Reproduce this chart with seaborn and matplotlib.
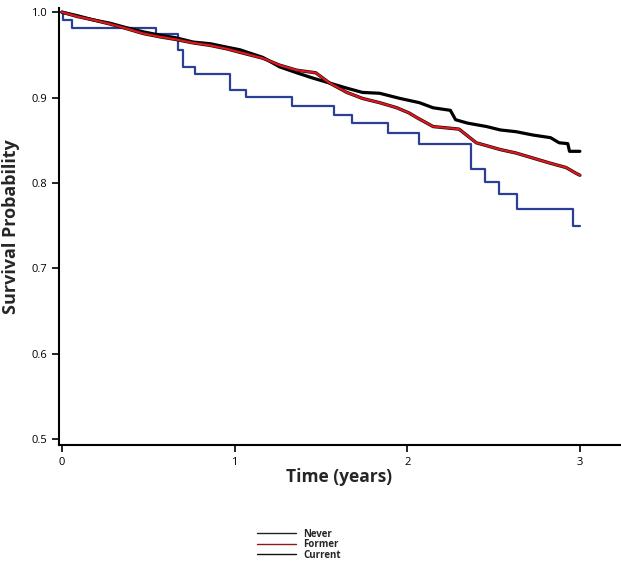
import matplotlib
matplotlib.use("Agg")
import matplotlib.pyplot as plt
import matplotlib.patheffects as pe
from matplotlib.lines import Line2D
import seaborn as sns
import pandas as pd

# Kaplan-Meier readings (time in years, survival probability)
never_t = [0, 0.087, 0.18, 0.28, 0.37, 0.47, 0.57, 0.66, 0.76, 0.86, 0.955, 1.03,
           1.164, 1.26, 1.36, 1.45, 1.55, 1.65, 1.74, 1.84, 1.957, 2.07, 2.15,
           2.25, 2.28, 2.35, 2.46, 2.54, 2.63, 2.73, 2.83, 2.88, 2.93, 2.94, 3.0]
never_s = [1.0, 0.996, 0.991, 0.987, 0.982, 0.977, 0.973, 0.970, 0.965, 0.963, 0.959, 0.956,
           0.947, 0.936, 0.929, 0.923, 0.917, 0.911, 0.906, 0.905, 0.899, 0.894, 0.888,
           0.885, 0.874, 0.870, 0.866, 0.862, 0.860, 0.856, 0.853, 0.847, 0.846, 0.837, 0.837]

former_t = [0, 0.087, 0.18, 0.28, 0.37, 0.47, 0.57, 0.66, 0.76, 0.86, 0.955, 1.03,
            1.164, 1.26, 1.36, 1.47, 1.55, 1.65, 1.74, 1.84, 1.94, 2.01, 2.06, 2.15,
            2.30, 2.40, 2.54, 2.63, 2.73, 2.83, 2.92, 2.98, 3.0]
former_s = [1.0, 0.995, 0.991, 0.986, 0.981, 0.975, 0.971, 0.968, 0.964, 0.961, 0.957, 0.953,
            0.946, 0.938, 0.932, 0.929, 0.917, 0.906, 0.899, 0.894, 0.888, 0.882, 0.876, 0.866,
            0.863, 0.847, 0.839, 0.835, 0.829, 0.823, 0.818, 0.811, 0.809]

current_t = [0, 0.006, 0.058, 0.544, 0.672, 0.70, 0.77, 0.973, 1.065, 1.33, 1.575,
             1.68, 1.89, 2.07, 2.37, 2.45, 2.53, 2.635, 2.96, 3.0]
current_s = [1.0, 0.991, 0.982, 0.974, 0.956, 0.936, 0.928, 0.909, 0.901, 0.890, 0.880,
             0.870, 0.859, 0.846, 0.816, 0.801, 0.787, 0.770, 0.750, 0.750]

groups = ["Never", "Former", "Current"]
legend_colors = ["#222222", "#8b1a1a", "#111111"]


def make_df(t, s, name):
    return pd.DataFrame({"time": t, "surv": s, "group": name})


df = pd.concat([make_df(never_t, never_s, "Never"),
                make_df(former_t, former_s, "Former"),
                make_df(current_t, current_s, "Current")], ignore_index=True)

sns.set_style("ticks")
plt.rcParams["font.family"] = ["Open Sans", "DejaVu Sans"]

fig = plt.figure(figsize=(6.21, 5.64), dpi=100)
ax = fig.add_axes([0.095, 0.211, 0.903, 0.775])

sns.lineplot(data=df[df.group == "Current"], x="time", y="surv", ax=ax,
             color="#2b3f98", linewidth=1.6, drawstyle="steps-post", estimator=None)
sns.lineplot(data=df[df.group == "Never"], x="time", y="surv", ax=ax,
             color="black", linewidth=2.3, estimator=None)
sns.lineplot(data=df[df.group == "Former"], x="time", y="surv", ax=ax,
             color="#e8141b", linewidth=1.5, estimator=None,
             path_effects=[pe.withStroke(linewidth=2.4, foreground="#111111")])

ax.set_xlim(-0.017, 3.231)
ax.set_ylim(0.493, 1.005)
ax.set_xticks([0, 1, 2, 3])
ax.set_yticks([0.5, 0.6, 0.7, 0.8, 0.9, 1.0])
ax.set_yticklabels(["0.5", "0.6", "0.7", "0.8", "0.9", "1.0"])
ax.tick_params(labelsize=8, length=5, width=1.2, colors="black")
for side in ["top", "right"]:
    ax.spines[side].set_visible(False)
for side in ["left", "bottom"]:
    ax.spines[side].set_linewidth(1.5)
    ax.spines[side].set_color("black")

ax.set_xlabel("Time (years)", fontsize=12.5, fontweight="bold", labelpad=0)
ax.set_ylabel("Survival Probability", fontsize=13, fontweight="bold", labelpad=8)

handles = [Line2D([0], [0], color=c, linewidth=1.0) for c in legend_colors]
fig.legend(handles, groups, loc="upper left", bbox_to_anchor=(252 / 621, 1 - 524 / 564),
           frameon=False, prop={"weight": "bold", "size": 7},
           handlelength=4.0, labelspacing=-0.05, handletextpad=0.8, borderpad=0)

fig.savefig("out.png", dpi=100)
